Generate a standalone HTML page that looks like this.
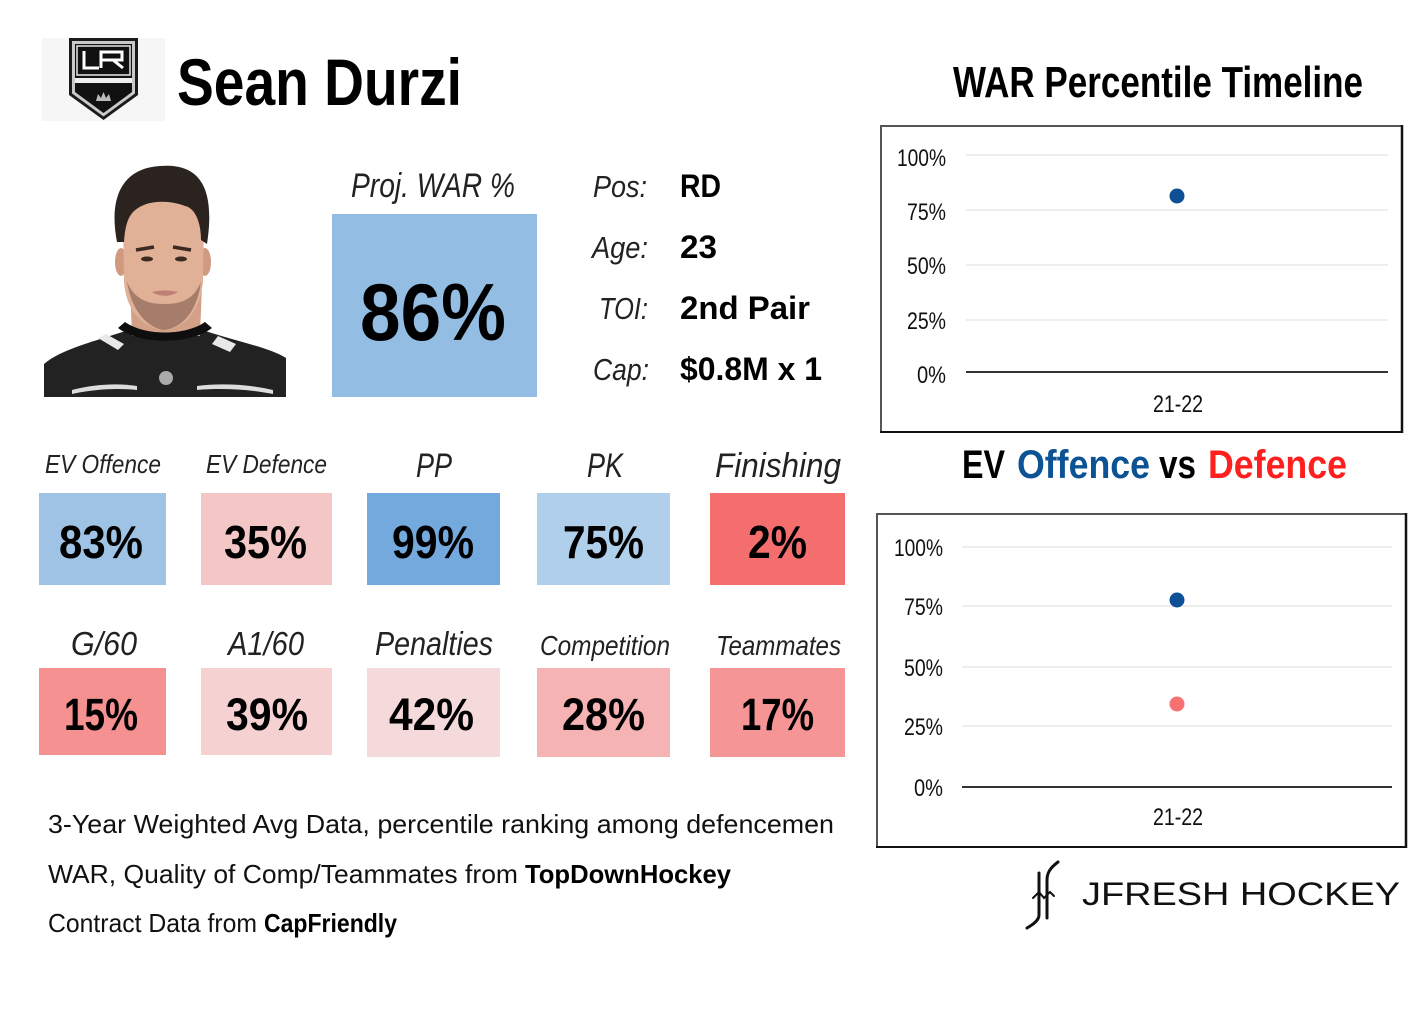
<!DOCTYPE html>
<html><head><meta charset="utf-8"><style>
html,body{margin:0;padding:0;background:#fff;}
svg{display:block;}
text{font-family:"Liberation Sans",sans-serif;}
</style></head><body>
<svg width="1424" height="1013" viewBox="0 0 1424 1013" xmlns="http://www.w3.org/2000/svg">
<rect width="1424" height="1013" fill="#fff"/>

<!-- LA logo -->
<rect x="42" y="38" width="123" height="83" fill="#f6f6f6"/>
<path d="M69,38 L138,38 L138,95 L103.5,120 L69,95 Z" fill="#1a1a1a"/>
<path d="M72,41 L135,41 L135,93.5 L103.5,116.5 L72,93.5 Z" fill="#c9c9c9"/>
<path d="M75,44 L132,44 L132,92 L103.5,113 L75,92 Z" fill="#111"/>
<rect x="77" y="46" width="53" height="29" fill="#111" stroke="#e8e8e8" stroke-width="1.5"/>
<path d="M84,51 L84,68 L99,68" fill="none" stroke="#fff" stroke-width="3"/>
<path d="M101,68 L101,52 L122,52 L122,60 L102,60 M113,60 L123,68" fill="none" stroke="#fff" stroke-width="3"/>
<rect x="75" y="78" width="57" height="5" fill="#eee"/>
<path d="M96,101 L98,94 L101,98 L103.5,92 L106,98 L109,94 L111,101 Z" fill="#bbb"/>

<!-- Player photo -->
<path d="M44,397 L44,364 C60,350 92,342 116,334 C135,328 150,325 165,325 C181,325 196,328 215,334 C240,342 270,348 286,358 L286,397 Z" fill="#222"/>
<path d="M130,285 L202,285 L200,336 L132,336 Z" fill="#d2a187"/>
<path d="M118,328 C140,345 190,345 212,328 L205,322 C185,336 145,336 125,322 Z" fill="#0e0e0e"/>
<path d="M98,338 L118,350 L124,344 L106,334 Z" fill="#e8e8e8"/>
<path d="M212,344 L230,352 L236,344 L218,336 Z" fill="#e8e8e8"/>
<path d="M72,390 C95,384 118,383 137,386 L137,390 C118,388 95,389 72,394 Z" fill="#ddd"/>
<path d="M197,386 C220,383 248,384 273,390 L273,394 C248,389 220,388 197,390 Z" fill="#ddd"/>
<circle cx="166" cy="378" r="7" fill="#aaa"/>
<ellipse cx="121" cy="262" rx="6" ry="14" fill="#d09a80"/>
<ellipse cx="205" cy="262" rx="6" ry="14" fill="#d09a80"/>
<path d="M123,215 C123,188 204,188 204,215 L203,282 C200,310 186,328 164,330 C142,328 126,310 124,282 Z" fill="#e0b197"/>
<path d="M127,282 C132,312 148,328 164,330 C182,328 197,312 201,282 C194,298 184,304 164,304 C146,304 134,298 127,282 Z" fill="#6a4a3e" opacity="0.5"/>
<path d="M117,242 C108,195 124,168 160,166 C198,163 216,185 207,244 L201,240 C201,222 195,208 185,206 C170,200 150,200 138,208 C128,214 125,226 124,242 Z" fill="#2b2320"/>
<path d="M136,250 L154,247 M173,247 L191,250" stroke="#3a2a22" stroke-width="3.5"/>
<ellipse cx="147" cy="259" rx="6" ry="2.5" fill="#3a2a22"/>
<ellipse cx="181" cy="259" rx="6" ry="2.5" fill="#3a2a22"/>
<path d="M152,292 C160,290 170,290 178,292 C170,297 160,297 152,292 Z" fill="#c07f74"/>

<!-- Name -->
<text x="177" y="105" font-size="66" font-weight="bold" fill="#000" textLength="285" lengthAdjust="spacingAndGlyphs">Sean Durzi</text>

<!-- Proj WAR -->
<text x="351" y="197" font-size="34" font-style="italic" fill="#222" textLength="164" lengthAdjust="spacingAndGlyphs">Proj. WAR %</text>
<rect x="332" y="214" width="205" height="183" fill="#94bde3"/>
<text x="360" y="340" font-size="81" font-weight="bold" fill="#000" textLength="146" lengthAdjust="spacingAndGlyphs">86%</text>

<!-- Stats -->
<text x="593" y="197" font-size="31" font-style="italic" fill="#222" textLength="54" lengthAdjust="spacingAndGlyphs">Pos:</text>
<text x="680" y="197" font-size="32" font-weight="bold" fill="#000" textLength="41" lengthAdjust="spacingAndGlyphs">RD</text>
<text x="592" y="258" font-size="31" font-style="italic" fill="#222" textLength="56" lengthAdjust="spacingAndGlyphs">Age:</text>
<text x="680" y="258" font-size="32" font-weight="bold" fill="#000" textLength="37" lengthAdjust="spacingAndGlyphs">23</text>
<text x="599" y="319" font-size="31" font-style="italic" fill="#222" textLength="49" lengthAdjust="spacingAndGlyphs">TOI:</text>
<text x="680" y="319" font-size="32" font-weight="bold" fill="#000" textLength="130" lengthAdjust="spacingAndGlyphs">2nd Pair</text>
<text x="593" y="380" font-size="31" font-style="italic" fill="#222" textLength="56" lengthAdjust="spacingAndGlyphs">Cap:</text>
<text x="680" y="380" font-size="32" font-weight="bold" fill="#000" textLength="142" lengthAdjust="spacingAndGlyphs">$0.8M x 1</text>

<!-- Row 1 -->
<text x="45" y="473" font-size="26" font-style="italic" fill="#222" textLength="116" lengthAdjust="spacingAndGlyphs">EV Offence</text>
<text x="206" y="473" font-size="26" font-style="italic" fill="#222" textLength="121" lengthAdjust="spacingAndGlyphs">EV Defence</text>
<text x="416" y="477" font-size="34" font-style="italic" fill="#222" textLength="36" lengthAdjust="spacingAndGlyphs">PP</text>
<text x="587" y="477" font-size="34" font-style="italic" fill="#222" textLength="36" lengthAdjust="spacingAndGlyphs">PK</text>
<text x="715" y="477" font-size="34" font-style="italic" fill="#222" textLength="126" lengthAdjust="spacingAndGlyphs">Finishing</text>

<rect x="39" y="493" width="127" height="92" fill="#9fc3e5"/>
<rect x="201" y="493" width="131" height="92" fill="#f4c7c7"/>
<rect x="367" y="493" width="133" height="92" fill="#73a9dc"/>
<rect x="537" y="493" width="133" height="92" fill="#b0cfea"/>
<rect x="710" y="493" width="135" height="92" fill="#f46e6e"/>

<text x="59" y="558" font-size="46" font-weight="bold" fill="#000" textLength="84" lengthAdjust="spacingAndGlyphs">83%</text>
<text x="224" y="558" font-size="46" font-weight="bold" fill="#000" textLength="83" lengthAdjust="spacingAndGlyphs">35%</text>
<text x="392" y="558" font-size="46" font-weight="bold" fill="#000" textLength="82" lengthAdjust="spacingAndGlyphs">99%</text>
<text x="563" y="558" font-size="46" font-weight="bold" fill="#000" textLength="81" lengthAdjust="spacingAndGlyphs">75%</text>
<text x="748" y="558" font-size="46" font-weight="bold" fill="#000" textLength="59" lengthAdjust="spacingAndGlyphs">2%</text>

<!-- Row 2 -->
<text x="71" y="655" font-size="33" font-style="italic" fill="#222" textLength="66" lengthAdjust="spacingAndGlyphs">G/60</text>
<text x="228" y="655" font-size="33" font-style="italic" fill="#222" textLength="76" lengthAdjust="spacingAndGlyphs">A1/60</text>
<text x="375" y="655" font-size="33" font-style="italic" fill="#222" textLength="118" lengthAdjust="spacingAndGlyphs">Penalties</text>
<text x="540" y="655" font-size="28" font-style="italic" fill="#222" textLength="130" lengthAdjust="spacingAndGlyphs">Competition</text>
<text x="716" y="655" font-size="28" font-style="italic" fill="#222" textLength="125" lengthAdjust="spacingAndGlyphs">Teammates</text>

<rect x="39" y="668" width="127" height="87" fill="#f69191"/>
<rect x="201" y="668" width="131" height="87" fill="#f5d1d1"/>
<rect x="367" y="668" width="133" height="89" fill="#f4dada"/>
<rect x="537" y="668" width="133" height="89" fill="#f6b3b3"/>
<rect x="710" y="668" width="135" height="89" fill="#f69595"/>

<text x="64" y="730" font-size="45" font-weight="bold" fill="#000" textLength="74" lengthAdjust="spacingAndGlyphs">15%</text>
<text x="226" y="730" font-size="45" font-weight="bold" fill="#000" textLength="82" lengthAdjust="spacingAndGlyphs">39%</text>
<text x="389" y="730" font-size="45" font-weight="bold" fill="#000" textLength="85" lengthAdjust="spacingAndGlyphs">42%</text>
<text x="562" y="730" font-size="45" font-weight="bold" fill="#000" textLength="83" lengthAdjust="spacingAndGlyphs">28%</text>
<text x="741" y="730" font-size="45" font-weight="bold" fill="#000" textLength="73" lengthAdjust="spacingAndGlyphs">17%</text>

<!-- Footer text -->
<text x="48" y="833" font-size="26" fill="#111" textLength="786" lengthAdjust="spacingAndGlyphs">3-Year Weighted Avg Data, percentile ranking among defencemen</text>
<text x="48" y="883" font-size="26" fill="#111" textLength="470" lengthAdjust="spacingAndGlyphs">WAR, Quality of Comp/Teammates from</text>
<text x="525" y="883" font-size="26" font-weight="bold" fill="#000" textLength="206" lengthAdjust="spacingAndGlyphs">TopDownHockey</text>
<text x="48" y="932" font-size="26" fill="#111" textLength="209" lengthAdjust="spacingAndGlyphs">Contract Data from</text>
<text x="264" y="932" font-size="26" font-weight="bold" fill="#000" textLength="133" lengthAdjust="spacingAndGlyphs">CapFriendly</text>

<!-- Chart 1 -->
<text x="953" y="97" font-size="44" font-weight="bold" fill="#000" textLength="410" lengthAdjust="spacingAndGlyphs">WAR Percentile Timeline</text>
<rect x="881" y="126" width="521" height="306" fill="#fff" stroke="#555" stroke-width="2"/>
<line x1="1402" y1="125" x2="1402" y2="433" stroke="#111" stroke-width="2.5"/>
<line x1="880" y1="432" x2="1403" y2="432" stroke="#111" stroke-width="2"/>
<g stroke="#eeeeee" stroke-width="2">
<line x1="966" y1="155" x2="1388" y2="155"/>
<line x1="966" y1="210" x2="1388" y2="210"/>
<line x1="966" y1="265" x2="1388" y2="265"/>
<line x1="966" y1="320" x2="1388" y2="320"/>
</g>
<line x1="966" y1="372" x2="1388" y2="372" stroke="#333" stroke-width="2"/>
<g font-size="24" fill="#111" text-anchor="end">
<text x="946" y="166" textLength="49" lengthAdjust="spacingAndGlyphs">100%</text>
<text x="946" y="220" textLength="39" lengthAdjust="spacingAndGlyphs">75%</text>
<text x="946" y="274" textLength="39" lengthAdjust="spacingAndGlyphs">50%</text>
<text x="946" y="329" textLength="39" lengthAdjust="spacingAndGlyphs">25%</text>
<text x="946" y="383" textLength="29" lengthAdjust="spacingAndGlyphs">0%</text>
</g>
<text x="1153" y="412" font-size="24" fill="#111" textLength="50" lengthAdjust="spacingAndGlyphs">21-22</text>
<circle cx="1177" cy="196" r="7.5" fill="#0d5096"/>

<!-- Chart 2 -->
<text x="962" y="478" font-size="40" font-weight="bold" fill="#000" textLength="43" lengthAdjust="spacingAndGlyphs">EV</text>
<text x="1017" y="478" font-size="40" font-weight="bold" fill="#0b5394" textLength="133" lengthAdjust="spacingAndGlyphs">Offence</text>
<text x="1159" y="478" font-size="40" font-weight="bold" fill="#000" textLength="37" lengthAdjust="spacingAndGlyphs">vs</text>
<text x="1208" y="478" font-size="40" font-weight="bold" fill="#ff1f1f" textLength="139" lengthAdjust="spacingAndGlyphs">Defence</text>
<rect x="877" y="514" width="529" height="333" fill="#fff" stroke="#555" stroke-width="2"/>
<line x1="1406" y1="513" x2="1406" y2="848" stroke="#111" stroke-width="2.5"/>
<line x1="876" y1="847" x2="1407" y2="847" stroke="#111" stroke-width="2"/>
<g stroke="#eeeeee" stroke-width="2">
<line x1="962" y1="547" x2="1392" y2="547"/>
<line x1="962" y1="606" x2="1392" y2="606"/>
<line x1="962" y1="667" x2="1392" y2="667"/>
<line x1="962" y1="726" x2="1392" y2="726"/>
</g>
<line x1="962" y1="787" x2="1392" y2="787" stroke="#333" stroke-width="2"/>
<g font-size="24" fill="#111" text-anchor="end">
<text x="943" y="556" textLength="49" lengthAdjust="spacingAndGlyphs">100%</text>
<text x="943" y="615" textLength="39" lengthAdjust="spacingAndGlyphs">75%</text>
<text x="943" y="676" textLength="39" lengthAdjust="spacingAndGlyphs">50%</text>
<text x="943" y="735" textLength="39" lengthAdjust="spacingAndGlyphs">25%</text>
<text x="943" y="796" textLength="29" lengthAdjust="spacingAndGlyphs">0%</text>
</g>
<text x="1153" y="825" font-size="24" fill="#111" textLength="50" lengthAdjust="spacingAndGlyphs">21-22</text>
<circle cx="1177" cy="600" r="7.5" fill="#0d5096"/>
<circle cx="1177" cy="704" r="7.5" fill="#f87171"/>

<!-- JFresh logo -->
<g fill="none" stroke="#111" stroke-linecap="round">
<path d="M1039,873 L1039,915 C1039,920 1034,924 1027,928" stroke-width="3"/>
<path d="M1058,862 C1050,868 1047,873 1047,880 L1047,918" stroke-width="3"/>
<path d="M1033,898 L1039,892 L1044,898 L1050,892 L1054,896" stroke-width="2"/>
</g>
<text x="1082" y="905" font-size="32" fill="#111" textLength="318" lengthAdjust="spacingAndGlyphs">JFRESH HOCKEY</text>
</svg>
</body></html>
